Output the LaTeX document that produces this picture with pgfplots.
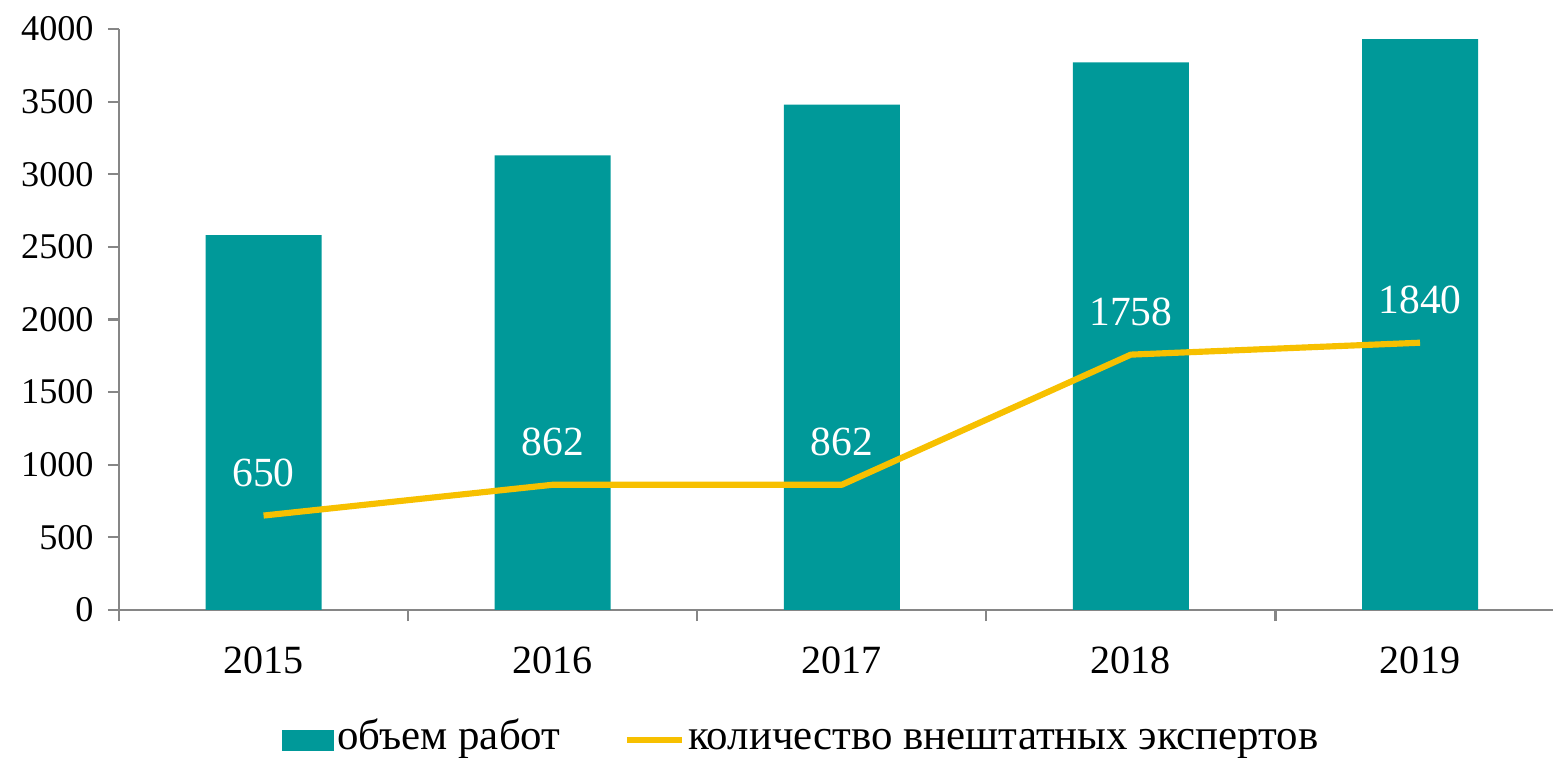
\documentclass[border=0pt]{standalone}
\usepackage{pgfplots}
\pgfplotsset{compat=1.18}
\usepackage{fontspec}
\setmainfont{Liberation Serif}
\definecolor{teal1}{RGB}{0,153,153}
\definecolor{gold1}{RGB}{247,192,0}
\definecolor{axgray}{RGB}{134,134,134}
\begin{document}
\begin{tikzpicture}
\path[use as bounding box] (-33.86pt,-42.1pt) rectangle (408pt,173.55pt);
\begin{axis}[
  at={(0,0)}, anchor=south west,
  scale only axis, width=408pt, height=165.3pt,
  xmin=-0.5, xmax=4.46, ymin=0, ymax=4000,
  axis lines*=left,
  axis line style={draw=axgray, line width=0.6pt},
  tick style={draw=axgray, line width=0.6pt},
  tick align=outside,
  major tick length=3.2pt,
  /pgf/number format/assume math mode=true,
  ytick={0,500,...,4000},
  yticklabel style={font=\fontsize{10.3}{12}\selectfont, xshift=-0.5pt},
  scaled y ticks=false,
  yticklabel={\pgfmathprintnumber[fixed,1000 sep={}]{\tick}},
  xtick={-0.5,0.5,1.5,2.5,3.5},
  xticklabels={},
  extra x ticks={0,1,2,3,4},
  extra x tick labels={2015,2016,2017,2018,2019},
  extra x tick style={major tick length=0pt,
     tick label style={font=\fontsize{11.4}{13}\selectfont, yshift=-7pt}},
  legend style={at={(0.113,-0.2245)}, anchor=west, draw=none, fill=none,
     legend columns=2, font=\fontsize{12.2}{14}\selectfont,
     nodes={inner xsep=1pt, inner ysep=0pt, text height=1.6ex, text depth=0.45ex},
     /tikz/every even column/.append style={column sep=17pt},
     inner sep=0pt},
  clip=false,
]
\addplot[ybar, bar width=33pt, fill=teal1, draw=none,
  legend image code/.code={\fill[teal1] (0pt,-3pt) rectangle (14.8pt,3pt);}]
  coordinates {(0,2580) (1,3130) (2,3480) (3,3770) (4,3930)};
\addlegendentry{объем работ}
\addplot[gold1, line width=1.75pt, mark=none, line join=round,
  legend image code/.code={\draw[gold1, line width=1.75pt] (0pt,0pt) -- (15.6pt,0pt);},
  nodes near coords={\pgfmathprintnumber[fixed,1000 sep={}]{\pgfplotspointmeta}},
  every node near coord/.append style={yshift=4pt, text=white, font=\fontsize{11.8}{13}\selectfont}]
  coordinates {(0,650) (1,862) (2,862) (3,1758) (4,1840)};
\addlegendentry{количество внештатных экспертов}
\end{axis}
\end{tikzpicture}
\end{document}
